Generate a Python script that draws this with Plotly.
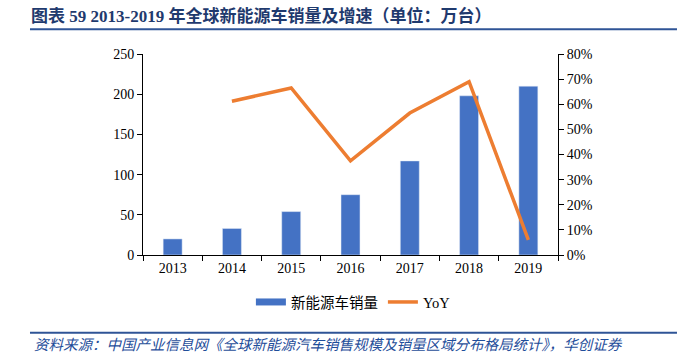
import plotly.graph_objects as go

years = ["2013", "2014", "2015", "2016", "2017", "2018", "2019"]
sales = [20, 33, 54, 75, 117, 198, 210]
yoy = [None, 0.612, 0.665, 0.375, 0.565, 0.69, 0.06]

title_text = "图表 59 2013-2019 年全球新能源车销量及增速（单位：万台）"
source_text = "资料来源：中国产业信息网《全球新能源汽车销售规模及销量区域分布格局统计》，华创证券"

serif = "Liberation Serif, Times New Roman, Noto Sans CJK SC, serif"

fig = go.Figure()
fig.add_trace(go.Bar(x=years, y=sales, name="新能源车销量", marker_color="#4472C4",
                     width=0.32, yaxis="y", showlegend=False))
# legend-only entry to get a wide rectangular swatch like the reference
fig.add_trace(go.Scatter(x=[None], y=[None], name="新能源车销量", mode="lines",
                         line=dict(color="#4472C4", width=7), yaxis="y"))
fig.add_trace(go.Scatter(x=years, y=yoy, name="YoY", mode="lines",
                         line=dict(color="#ED7D31", width=3.5), yaxis="y2",
                         connectgaps=False))

fig.update_layout(
    width=683, height=356,
    margin=dict(l=143, r=125, t=54, b=101, autoexpand=False),
    paper_bgcolor="white", plot_bgcolor="white",
    font=dict(family=serif, size=14, color="#000000"),
    title=dict(text="<b>" + title_text + "</b>", x=31/683, xanchor="left",
               y=1-16/356, yanchor="middle",
               font=dict(family=serif, size=17, color="#1F3A6E")),
    xaxis=dict(type="category", showline=True, linecolor="#000000", linewidth=1,
               ticks="outside", tickson="boundaries", ticklen=5, tickcolor="#000000",
               showgrid=False, tickfont=dict(size=14)),
    yaxis=dict(range=[0, 250], dtick=50, showline=True, linecolor="#000000",
               linewidth=1, ticks="outside", ticklen=5, tickcolor="#000000",
               showgrid=False, zeroline=False, tickfont=dict(size=14)),
    yaxis2=dict(range=[0, 0.8], dtick=0.1, tickformat=".0%", overlaying="y",
                side="right", showline=True, linecolor="#000000", linewidth=1,
                ticks="outside", ticklen=5, tickcolor="#000000", showgrid=False,
                zeroline=False, tickfont=dict(size=14)),
    legend=dict(orientation="h", x=0.26, xanchor="left", y=-0.234, yanchor="middle",
                font=dict(size=14.5, family=serif),
                bgcolor="rgba(0,0,0,0)"),
)

fig.add_shape(type="line", xref="paper", yref="paper", x0=-0.2723, x1=1.2867,
              y0=1.1229, y1=1.1229, line=dict(color="#2F5496", width=2))
fig.add_shape(type="line", xref="paper", yref="paper", x0=-0.2723, x1=1.2867,
              y0=-0.3866, y1=-0.3866, line=dict(color="#2F5496", width=2))
fig.add_annotation(text="<i>" + source_text + "</i>", xref="paper", yref="paper",
                   x=-0.2675, y=-0.448, xanchor="left", yanchor="middle",
                   showarrow=False, font=dict(size=14.5, color="#1F4E9A", family=serif))

fig.write_html("out.html", config={"displayModeBar": False},
               post_script="document.body.style.margin='0';document.body.style.overflow='hidden';")
